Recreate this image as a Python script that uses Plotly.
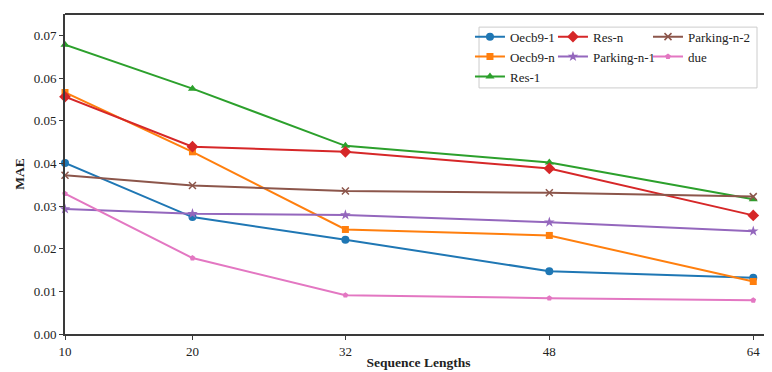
import plotly.graph_objects as go

seq_lengths = [10, 20, 32, 48, 64]
oecb9_1 = [0.0401, 0.0274, 0.0221, 0.0147, 0.0132]
oecb9_n = [0.0566, 0.0427, 0.0245, 0.0231, 0.0123]
res_1 = [0.0678, 0.0575, 0.0441, 0.0402, 0.0316]
res_n = [0.0556, 0.0439, 0.0427, 0.0388, 0.0278]
parking_n_1 = [0.0293, 0.0282, 0.0279, 0.0262, 0.0241]
parking_n_2 = [0.0372, 0.0348, 0.0335, 0.0331, 0.0322]
due = [0.0329, 0.0178, 0.0091, 0.0084, 0.0079]
y_ticks = [0.00, 0.01, 0.02, 0.03, 0.04, 0.05, 0.06, 0.07]

# name, values, color, marker symbol, marker size, legend column
series = [
    ("Oecb9-1", oecb9_1, "#1f77b4", "circle", 8, "legend"),
    ("Oecb9-n", oecb9_n, "#ff7f0e", "square", 7, "legend"),
    ("Res-1", res_1, "#2ca02c", "triangle-up", 8, "legend"),
    ("Res-n", res_n, "#d62728", "diamond", 9, "legend2"),
    ("Parking-n-1", parking_n_1, "#9467bd", "star", 8, "legend2"),
    ("Parking-n-2", parking_n_2, "#8c564b", "x-thin", 7, "legend3"),
    ("due", due, "#e377c2", "pentagon", 6, "legend3"),
]

font_family = "Liberation Serif"
axis_color = "#3a3a3a"
text_color = "#222222"

fig = go.Figure()
for name, vals, color, sym, size, leg in series:
    marker = dict(symbol=sym, size=size, color=color)
    if sym == "x-thin":
        marker["line"] = dict(color=color, width=1.5)
    fig.add_trace(go.Scatter(
        x=seq_lengths, y=vals, name=name, mode="lines+markers",
        line=dict(color=color, width=2), marker=marker,
        legend=leg, cliponaxis=False,
    ))

legend_common = dict(
    orientation="v", yanchor="top", xanchor="left", y=0.976,
    itemwidth=30, bgcolor="rgba(0,0,0,0)", borderwidth=0,
    font=dict(family=font_family, size=13, color=text_color),
    tracegroupgap=0, traceorder="normal",
)

# The page body has an 8px margin, so the figure is sized to the visible area.
fig.update_layout(
    width=764, height=364,
    margin=dict(l=57, r=0, t=6, b=38, autoexpand=False),
    paper_bgcolor="white", plot_bgcolor="white",
    font=dict(family=font_family, size=13, color=text_color),
    showlegend=True,
    legend=dict(legend_common, x=0.5728),
    legend2=dict(legend_common, x=0.6902),
    legend3=dict(legend_common, x=0.8246),
    xaxis=dict(
        range=[10, 65.47], tickvals=seq_lengths, ticktext=[str(v) for v in seq_lengths],
        showgrid=False, zeroline=False, showline=True, linecolor=axis_color, linewidth=2,
        ticks="outside", ticklen=4, tickcolor=axis_color, automargin=False,
        tickfont=dict(size=13),
        title=dict(text="<b>Sequence Lengths</b>", standoff=0, font=dict(size=13.5)),
    ),
    yaxis=dict(
        range=[0, 0.075], tickvals=y_ticks, tickformat=".2f",
        showgrid=False, zeroline=False, showline=True, linecolor=axis_color, linewidth=2,
        ticks="outside", ticklen=4, tickcolor=axis_color, automargin=False,
        tickfont=dict(size=13),
        title=dict(text="<b>MAE</b>", standoff=6, font=dict(size=13.5)),
    ),
    shapes=[
        dict(type="line", xref="paper", yref="paper", x0=0, x1=1, y0=1, y1=1,
             line=dict(color=axis_color, width=2)),
        dict(type="rect", xref="paper", yref="paper", x0=0.5856, x1=0.9788,
             y0=0.769, y1=0.959, line=dict(color="#cccccc", width=1),
             fillcolor="rgba(255,255,255,0.8)", layer="below"),
    ],
)

fig.write_html("out.html")
